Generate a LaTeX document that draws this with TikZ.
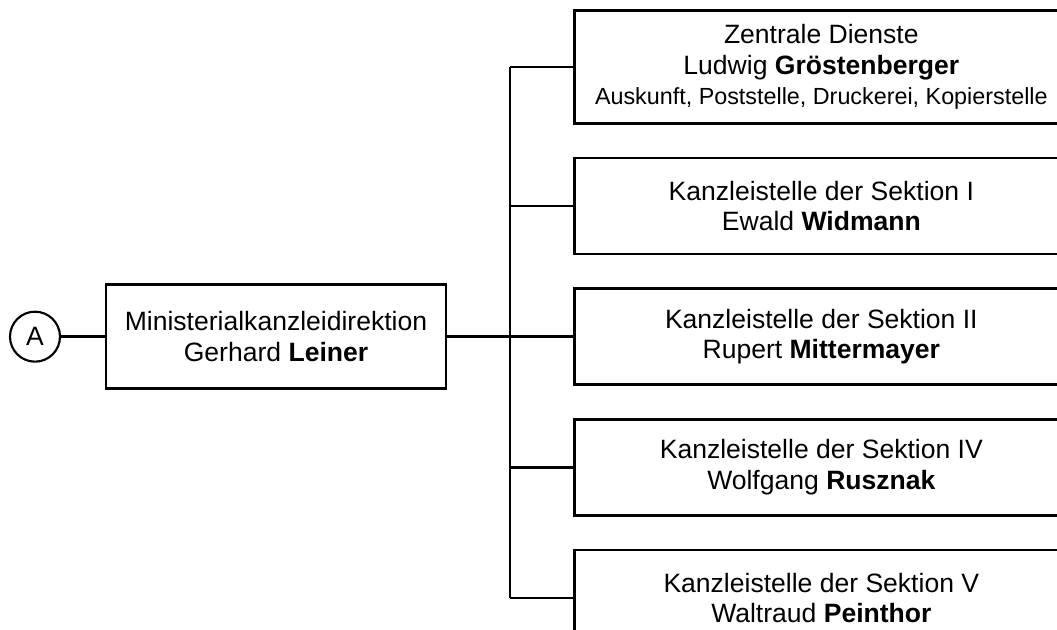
\documentclass[tikz,border=0pt]{standalone}
\usepackage{fontspec}
\setmainfont{Liberation Sans}
\usetikzlibrary{positioning}

\tikzset{
    unit/.style={draw, rectangle, line width=2pt, minimum width=370.5pt,
                 minimum height=72pt, align=center, inner sep=0pt,
                 font=\fontsize{19.9}{23}\selectfont},
    head/.style={unit, minimum width=255pt, minimum height=78pt},
    letter/.style={draw, circle, line width=1.6pt, minimum size=37.5pt, inner sep=0pt,
                   font=\fontsize{19.9}{23}\selectfont},
    wire/.style={line width=2pt}
}

\begin{document}
\begin{tikzpicture}[
                            x=0.75pt, y=-0.75pt,
                            node distance=24pt
                            ]
                            \useasboundingbox (0,0) rectangle (1057,629);

                            \node[unit, anchor=north west, minimum height=84.75pt] (zd) at (573,9)
                                {Zentrale Dienste\\
                                 Ludwig \textbf{Gröstenberger}\\
                                 {\fontsize{17.5}{21}\selectfont Auskunft, Poststelle, Druckerei, Kopierstelle}};
                            \node[unit, below=of zd]        (ks1)   {Kanzleistelle der Sektion I\\Ewald \textbf{Widmann}};
                            \node[unit, below=of ks1]       (ks2)   {Kanzleistelle der Sektion II\\Rupert \textbf{Mittermayer}};
                            \node[unit, below=of ks2]       (ks4)   {Kanzleistelle der Sektion IV\\Wolfgang \textbf{Rusznak}};
                            \node[unit, below=of ks4]       (ks5)   {Kanzleistelle der Sektion V\\Waltraud \textbf{Peinthor}};

                            \node[head] (mk) at (276,0 |- ks2)  {Ministerialkanzleidirektion\\Gerhard \textbf{Leiner}};
                            \node[letter] (a) at (35,0 |- ks2)  {A};

                            \coordinate (bus) at (510,0);

                            \draw[wire] (a) -- (mk);
                            \draw[wire] (mk.east) -- (mk.east -| bus);
                            \draw[wire] (bus |- zd.west) -- (bus |- ks5.west);

                            \draw[wire] (bus |- zd.west)  -- (zd.west);
                            \draw[wire] (bus |- ks1.west) -- (ks1.west);
                            \draw[wire] (bus |- ks2.west) -- (ks2.west);
                            \draw[wire] (bus |- ks4.west) -- (ks4.west);
                            \draw[wire] (bus |- ks5.west) -- (ks5.west);
                        \end{tikzpicture}
\end{document}
